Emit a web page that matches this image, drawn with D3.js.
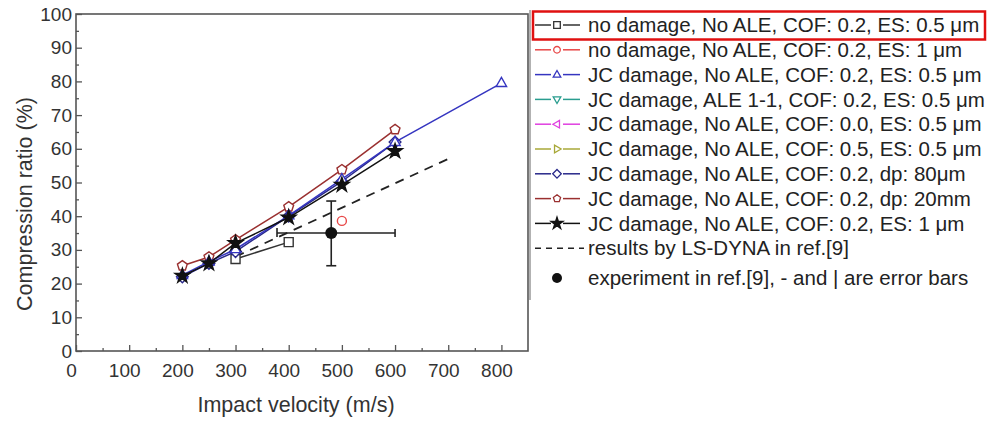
<!DOCTYPE html>
<html><head><meta charset="utf-8">
<script src="https://cdn.jsdelivr.net/npm/d3@7"></script>
<style>
body{margin:0;background:#fff;}
svg{display:block;font-family:"Liberation Sans",Arial,sans-serif;}
</style></head>
<body><svg id="c" width="987" height="421"></svg>
<script>
// ---- data ----
const xTicks = [0,100,200,300,400,500,600,700,800];
const yTicks = [0,10,20,30,40,50,60,70,80,90,100];
const legendLabels = [
  "no damage, No ALE, COF: 0.2, ES: 0.5 \u03bcm",
  "no damage, No ALE, COF: 0.2, ES: 1 \u03bcm",
  "JC damage, No ALE, COF: 0.2, ES: 0.5 \u03bcm",
  "JC damage, ALE 1-1, COF: 0.2, ES: 0.5 \u03bcm",
  "JC damage, No ALE, COF: 0.0, ES: 0.5 \u03bcm",
  "JC damage, No ALE, COF: 0.5, ES: 0.5 \u03bcm",
  "JC damage, No ALE, COF: 0.2, dp: 80\u03bcm",
  "JC damage, No ALE, COF: 0.2, dp: 20mm",
  "JC damage, No ALE, COF: 0.2, ES: 1 \u03bcm",
  "results by LS-DYNA in ref.[9]",
  "experiment in ref.[9], - and | are error bars"
];
const seriesColors = ["#333333","#e84848","#3535c0","#2a9d8f","#e040e0","#a8a838","#28288a","#9a3030","#111111"];
const seriesMarkers = ["square","circle","triUp","triDown","triLeft","triRight","diamond","pentagon","star"];

const noDmgES05_x = [300,400];
const noDmgES05_y = [27.3,32.3];
const noDmgES1_x = [500];
const noDmgES1_y = [38.6];
const jcES05_x = [200,250,300,400,500,600,800];
const jcES05_y = [22.5,26.5,30.2,40.2,51,62,79.5];
const jcALE_x = [];
const jcALE_y = [];
const jcCOF0_x = [];
const jcCOF0_y = [];
const jcCOF05_x = [];
const jcCOF05_y = [];
const jcDp80_x = [200,250,300,400,500,600];
const jcDp80_y = [22,26,29.5,40,50.3,62];
const jcDp20_x = [200,250,300,400,500,600];
const jcDp20_y = [25.3,27.9,33,42.8,53.8,65.7];
const jcES1_x = [200,250,300,400,500,600];
const jcES1_y = [22.3,26,32,39.6,49.3,59.3];
const lsdyna_x = [300,700];
const lsdyna_y = [28,57];
const exp_x = [480];
const exp_y = [35];
const exp_xlo = [378];
const exp_xhi = [600];
const exp_ylo = [25.3];
const exp_yhi = [44.5];

const seriesX = [noDmgES05_x,noDmgES1_x,jcES05_x,jcALE_x,jcCOF0_x,jcCOF05_x,jcDp80_x,jcDp20_x,jcES1_x];
const seriesY = [noDmgES05_y,noDmgES1_y,jcES05_y,jcALE_y,jcCOF0_y,jcCOF05_y,jcDp80_y,jcDp20_y,jcES1_y];
const drawOrder = [0,1,3,4,5,7,6,2,8];

// ---- layout ----
const svg = d3.select("#c");
const L=76, R=528, T=14, B=351;
const x = d3.scaleLinear().domain([0,850]).range([L,R]);
const y = d3.scaleLinear().domain([0,100]).range([B,T]);
const axisCol = "#555";
const textCol = "#333";

function markerPath(type, r){
  // r ~ half-size in px
  if(type==="square") return `M${-r},${-r}H${r}V${r}H${-r}Z`;
  if(type==="circle") return d3.symbol(d3.symbolCircle, Math.PI*r*r)();
  if(type==="diamond") return `M0,${-r*1.3}L${r*1.3},0L0,${r*1.3}L${-r*1.3},0Z`;
  if(type==="star") return d3.symbol(d3.symbolStar, r*r*2.2)();
  if(type.startsWith("tri")) return `M0,${-r*1.25}L${r*1.15},${r*0.75}L${-r*1.15},${r*0.75}Z`;
  if(type==="pentagon"){
    const rr = r*1.15; const pts=[];
    for(let i=0;i<5;i++){const a=-Math.PI/2+i*2*Math.PI/5; pts.push([rr*Math.cos(a), rr*Math.sin(a)]);}
    return "M"+pts.map(p=>p.join(",")).join("L")+"Z";
  }
}
function markerRot(type){
  return {triDown:180, triLeft:-90, triRight:90}[type]||0;
}

// ---- axes ----
const gx = svg.append("g").attr("transform",`translate(0,${B})`)
  .call(d3.axisBottom(x).tickValues(xTicks).tickSize(-6).tickPadding(13).tickFormat(d3.format("d")));
const gxm = svg.append("g").attr("transform",`translate(0,${B})`)
  .call(d3.axisBottom(x).tickValues(d3.range(50,850,100)).tickSize(-3).tickFormat(""));
const gy = svg.append("g").attr("transform",`translate(${L},0)`)
  .call(d3.axisLeft(y).tickValues(yTicks).tickSize(-6).tickPadding(4).tickFormat(d3.format("d")));
const gym = svg.append("g").attr("transform",`translate(${L},0)`)
  .call(d3.axisLeft(y).tickValues(d3.range(5,100,10)).tickSize(-3).tickFormat(""));
[gx,gxm,gy,gym].forEach(g=>{
  g.select(".domain").remove();
  g.selectAll("line").attr("stroke",axisCol).attr("stroke-width",1.3);
  g.selectAll("text").attr("fill",textCol).style("font-size","19px").style("font-family","'Liberation Sans',Arial,sans-serif");
});
gx.selectAll("text").attr("dx",-5);
// frame
svg.append("rect").attr("x",L).attr("y",T).attr("width",R-L).attr("height",B-T)
  .attr("fill","none").attr("stroke",axisCol).attr("stroke-width",1.6);

// axis titles
svg.append("text").attr("x",296).attr("y",412).attr("text-anchor","middle")
  .attr("fill",textCol).style("font-size","21.5px").text("Impact velocity (m/s)");
svg.append("text").attr("transform",`translate(32,204) rotate(-90)`).attr("text-anchor","middle")
  .attr("fill",textCol).style("font-size","21.5px").text("Compression ratio (%)");

// ---- data marks ----
const plot = svg.append("g");
plot.append("path").datum(d3.zip(lsdyna_x,lsdyna_y))
  .attr("d", d3.line().x(d=>x(d[0])).y(d=>y(d[1])))
  .attr("fill","none").attr("stroke","#222").attr("stroke-width",1.8).attr("stroke-dasharray","9,7");

drawOrder.forEach(i=>{
  const pts = d3.zip(seriesX[i], seriesY[i]);
  if(pts.length===0) return;
  const col = seriesColors[i];
  if(pts.length>1){
    plot.append("path").datum(pts)
      .attr("d", d3.line().x(d=>x(d[0])).y(d=>y(d[1])))
      .attr("fill","none").attr("stroke",col).attr("stroke-width",1.5);
  }
  const mt = seriesMarkers[i];
  plot.selectAll(null).data(pts).enter().append("path")
    .attr("transform", d=>`translate(${x(d[0])},${y(d[1])}) rotate(${markerRot(mt)})`)
    .attr("d", markerPath(mt, mt==="star"?5.5:4.5))
    .attr("fill", mt==="star" ? col : "#fff")
    .attr("stroke", col).attr("stroke-width",1.4);
});

// experiment with error bars
exp_x.forEach((vx,k)=>{
  const cx=x(vx), cy=y(exp_y[k]);
  const g = plot.append("g").attr("stroke","#222").attr("stroke-width",1.6);
  g.append("line").attr("x1",cx).attr("x2",cx).attr("y1",y(exp_yhi[k])).attr("y2",y(exp_ylo[k]));
  g.append("line").attr("x1",cx-5).attr("x2",cx+5).attr("y1",y(exp_yhi[k])).attr("y2",y(exp_yhi[k]));
  g.append("line").attr("x1",cx-5).attr("x2",cx+5).attr("y1",y(exp_ylo[k])).attr("y2",y(exp_ylo[k]));
  g.append("line").attr("x1",x(exp_xlo[k])).attr("x2",x(exp_xhi[k])).attr("y1",cy).attr("y2",cy);
  g.append("line").attr("x1",x(exp_xlo[k])).attr("x2",x(exp_xlo[k])).attr("y1",cy-5).attr("y2",cy+4);
  g.append("line").attr("x1",x(exp_xhi[k])).attr("x2",x(exp_xhi[k])).attr("y1",cy-4).attr("y2",cy+4);
  plot.append("circle").attr("cx",cx).attr("cy",cy).attr("r",6).attr("fill","#111");
});

// ---- legend ----
const lg = svg.append("g");
lg.append("line").attr("x1",530).attr("x2",530).attr("y1",10).attr("y2",300)
  .attr("stroke","#999").attr("stroke-width",1.5);
const rowY = i => 25 + i*24.8 + (i===10?5:0);
legendLabels.forEach((lab,i)=>{
  const yy = rowY(i);
  if(i<9){
    const col = seriesColors[i];
    lg.append("line").attr("x1",535).attr("x2",551).attr("y1",yy).attr("y2",yy).attr("stroke",col).attr("stroke-width",1.5);
    lg.append("line").attr("x1",563).attr("x2",580).attr("y1",yy).attr("y2",yy).attr("stroke",col).attr("stroke-width",1.5);
    const mt = seriesMarkers[i];
    lg.append("path").attr("transform",`translate(557,${yy}) rotate(${markerRot(mt)})`)
      .attr("d", markerPath(mt, mt==="star"?4.5:3.3))
      .attr("fill", mt==="star"?col:"#fff").attr("stroke",col).attr("stroke-width",1.3);
  } else if(i===9){
    lg.append("line").attr("x1",535).attr("x2",584).attr("y1",yy).attr("y2",yy)
      .attr("stroke","#222").attr("stroke-width",1.6).attr("stroke-dasharray","6,5");
  } else {
    lg.append("circle").attr("cx",557).attr("cy",yy).attr("r",5).attr("fill","#111");
  }
  lg.append("text").attr("x",588).attr("y",yy).attr("dy","0.35em")
    .attr("fill","#222").style("font-size","20.5px").text(lab);
});
// highlight box
svg.append("rect").attr("x",533).attr("y",11.5).attr("width",452).attr("height",28)
  .attr("fill","none").attr("stroke","#e01010").attr("stroke-width",2.5);
</script>
</body></html>
